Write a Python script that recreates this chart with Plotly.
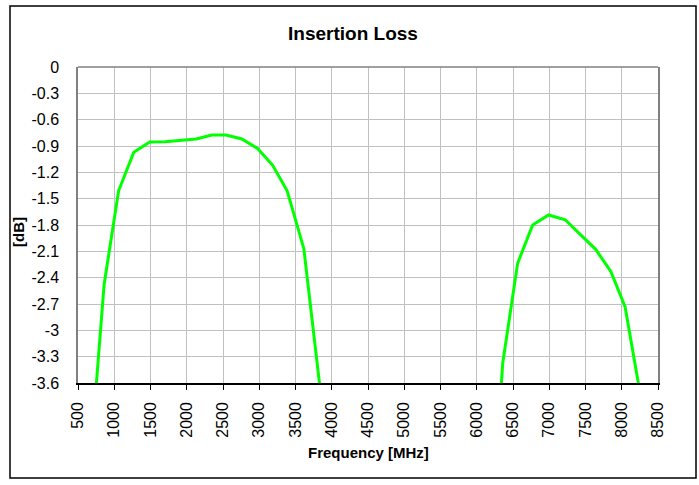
import plotly.graph_objects as go

# Insertion loss of a dual-band filter, two passbands (frequency in MHz, loss in dB)
band1_freq = [740, 860, 1060, 1270, 1490, 1700, 2130, 2345, 2540, 2760, 2980, 3185, 3385, 3615, 3850]
band1_db = [-3.75, -2.48, -1.41, -0.97, -0.855, -0.852, -0.82, -0.775, -0.775, -0.82, -0.93, -1.12, -1.41, -2.07, -3.74]

band2_freq = [6330, 6358, 6564, 6771, 6991, 7220, 7643, 7849, 8046, 8260]
band2_db = [-3.725, -3.375, -2.236, -1.80, -1.686, -1.74, -2.08, -2.33, -2.73, -3.75]

x_ticks = list(range(500, 8501, 500))
y_ticks = [0, -0.3, -0.6, -0.9, -1.2, -1.5, -1.8, -2.1, -2.4, -2.7, -3.0, -3.3, -3.6]
y_labels = ["0", "-0.3", "-0.6", "-0.9", "-1.2", "-1.5", "-1.8", "-2.1", "-2.4", "-2.7", "-3", "-3.3", "-3.6"]

FONT = "Liberation Sans, Arial, sans-serif"
GREEN = "#00ff00"

fig = go.Figure()
for fx, fy in ((band1_freq, band1_db), (band2_freq, band2_db)):
    fig.add_trace(go.Scatter(
        x=fx, y=fy, mode="lines",
        line=dict(color=GREEN, width=3),
        showlegend=False, hoverinfo="x+y",
    ))

fig.update_layout(
    width=699, height=485,
    margin=dict(l=78, r=41, t=67, b=102),
    paper_bgcolor="white", plot_bgcolor="white",
    font=dict(family=FONT, color="black"),
    title=dict(
        text="<b>Insertion Loss</b>", font=dict(size=19, family=FONT, color="black"),
        x=353 / 699, xref="container", xanchor="center",
        y=1 - 33 / 485, yref="container", yanchor="middle",
    ),
    xaxis=dict(
        range=[500, 8500], tickvals=x_ticks, tickangle=-90,
        tickfont=dict(size=16), ticks="outside", ticklen=5, tickcolor="black",
        showline=True, linecolor="black", linewidth=1.5,
        showgrid=True, gridcolor="#c0c0c0", gridwidth=1, zeroline=False,
        ticklabelstandoff=6,
    ),
    yaxis=dict(
        range=[-3.6, 0], tickvals=y_ticks, ticktext=y_labels,
        tickfont=dict(size=16), ticks="",
        showline=True, linecolor="#808080", linewidth=1.5, mirror=True,
        showgrid=True, gridcolor="#c0c0c0", gridwidth=1, zeroline=False,
        ticklabelstandoff=14,
    ),
    annotations=[
        dict(text="<b>Frequency [MHz]</b>", xref="paper", yref="paper",
             x=0.5, y=-(452 - 383) / 316, xanchor="center", yanchor="middle",
             showarrow=False, font=dict(size=15, family=FONT, color="black")),
        dict(text="<b>[dB]</b>", xref="paper", yref="paper", textangle=-90,
             x=(18 - 78) / 580, y=(383 - 232) / 316, xanchor="center", yanchor="middle",
             showarrow=False, font=dict(size=15, family=FONT, color="black")),
    ],
    shapes=[
        # top edge of the plot area
        dict(type="line", xref="paper", yref="paper", x0=0, x1=1, y0=1, y1=1,
             line=dict(color="#808080", width=1.5)),
        # outer chart frame
        dict(type="rect", xref="paper", yref="paper",
             x0=(10 - 78) / 580, x1=(696 - 78) / 580,
             y0=(383 - 478) / 316, y1=(383 - 6) / 316,
             line=dict(color="black", width=1.5)),
    ],
)

fig.write_html("out.html")
